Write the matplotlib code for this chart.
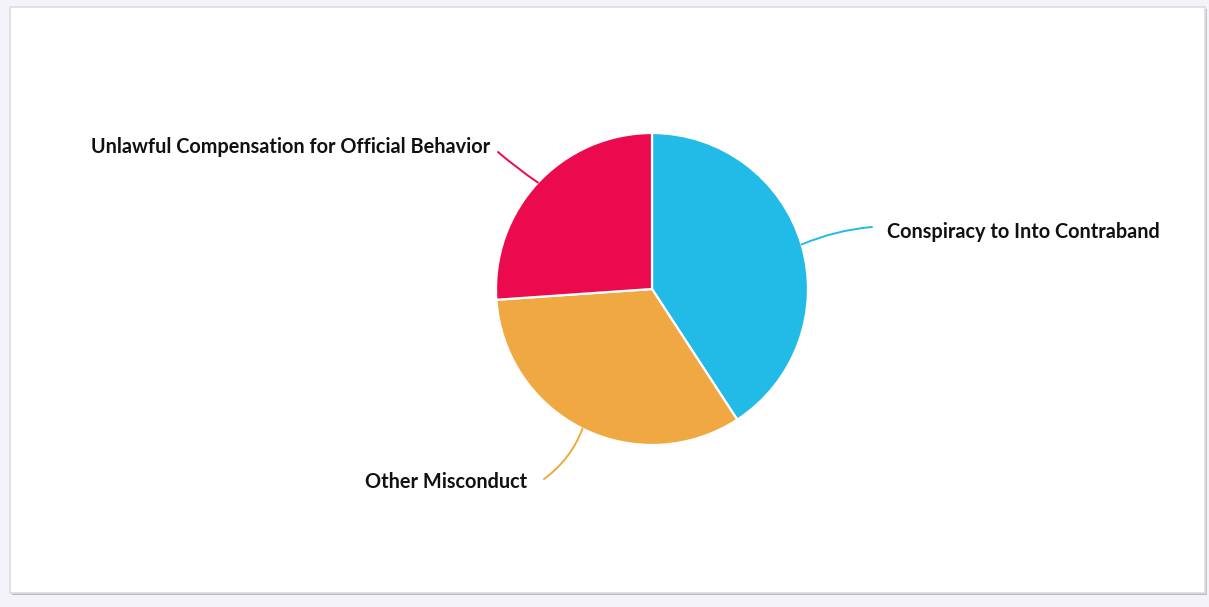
import numpy as np
import matplotlib.pyplot as plt
from matplotlib.patches import Rectangle

categories = ['Conspiracy to Into Contraband', 'Other Misconduct',
              'Unlawful Compensation for Official Behavior']
values = [40.8, 33.1, 26.1]
colors = ['#22bae6', '#f0a843', '#ec0a4e']

# where each leader line ends and where its label sits (pixel coords)
line_ends = [(872, 227), (544, 479), (498, 152)]
label_pos = [(887, 232), (527, 482), (490, 147)]
label_ha = ['left', 'right', 'right']
line_rad = [0.08, 0.15, 0.03]

CENTER = (652, 289)
RADIUS = 156

fig = plt.figure(figsize=(12.09, 6.07), dpi=100)
fig.patch.set_facecolor('#f3f3f9')
ax = fig.add_axes([0, 0, 1, 1])

# card
ax.add_patch(Rectangle((12, 593), 1195, 2, facecolor='#b9b9c4', edgecolor='none', zorder=0))
ax.add_patch(Rectangle((1205, 9), 2, 585, facecolor='#c8c8d0', edgecolor='none', zorder=0))
ax.add_patch(Rectangle((10, 7), 1195, 586, facecolor='white', edgecolor='#dcdce2', linewidth=1.2, zorder=0))

# y axis is inverted, so counterclock=True draws clockwise on screen
wedges, _ = ax.pie(values, colors=colors, startangle=-90, counterclock=True,
                   center=CENTER, radius=RADIUS, frame=True,
                   wedgeprops={'edgecolor': 'white', 'linewidth': 1.6})
ax.set_xlim(0, 1209)
ax.set_ylim(607, 0)
ax.set_aspect('equal')
ax.axis('off')

for w, name, col, end, pos, ha, rad in zip(wedges, categories, colors, line_ends, label_pos, label_ha, line_rad):
    mid = np.deg2rad((w.theta1 + w.theta2) / 2)
    edge = (CENTER[0] + RADIUS * np.cos(mid), CENTER[1] + RADIUS * np.sin(mid))
    ax.annotate('', xy=edge, xytext=end,
                arrowprops=dict(arrowstyle='-', color=col, lw=1.4,
                                shrinkA=0, shrinkB=0,
                                connectionstyle=f'arc3,rad={rad}'))
    ax.text(pos[0], pos[1], name, ha=ha, va='center', fontsize=14.3,
            fontweight='bold', family='Lato', color='#111111')

fig.savefig('out.png', dpi=100, facecolor=fig.get_facecolor())
